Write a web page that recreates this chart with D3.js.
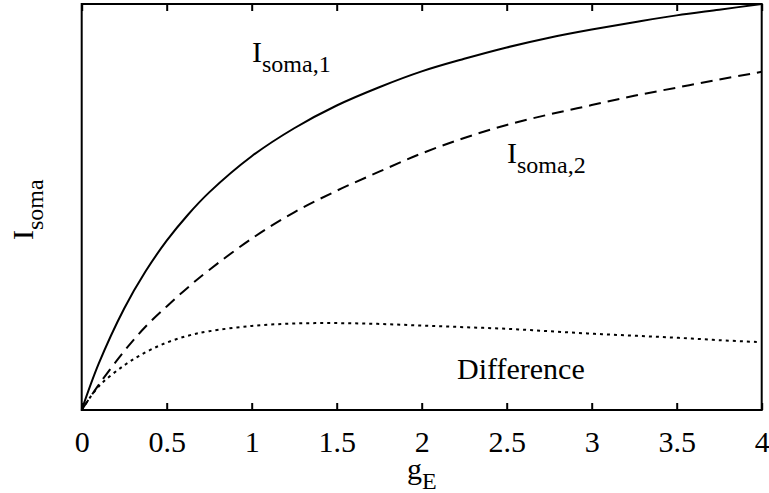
<!DOCTYPE html>
<html>
<head>
<meta charset="utf-8">
<script src="https://cdn.jsdelivr.net/npm/d3@7"></script>
<style>
  html, body { margin: 0; padding: 0; background: #fff; }
</style>
</head>
<body>
<svg id="chart" width="769" height="493"></svg>
<script>
// ---- data ----
const gE = [0, 0.1, 0.25, 0.375, 0.5, 0.625, 0.75, 1, 1.25, 1.5, 1.75, 2, 2.25, 2.5, 2.75, 3, 3.25, 3.5, 3.75, 4];
const soma1 = [0, 0.114, 0.25, 0.341, 0.417, 0.481, 0.536, 0.625, 0.694, 0.75, 0.795, 0.834, 0.865, 0.893, 0.917, 0.937, 0.955, 0.972, 0.986, 1.0];
const soma2 = [0, 0.062, 0.145, 0.205, 0.255, 0.302, 0.345, 0.422, 0.487, 0.54, 0.587, 0.632, 0.67, 0.702, 0.728, 0.751, 0.774, 0.794, 0.814, 0.833];
const diff  = [0, 0.058, 0.11, 0.142, 0.166, 0.183, 0.194, 0.207, 0.213, 0.214, 0.212, 0.208, 0.204, 0.2, 0.194, 0.188, 0.183, 0.178, 0.172, 0.167];
const xTicks = [0, 0.5, 1, 1.5, 2, 2.5, 3, 3.5, 4];
const xTickLabels = ["0", "0.5", "1", "1.5", "2", "2.5", "3", "3.5", "4"];

const FONT = '"Liberation Serif", "Times New Roman", serif';
const svg = d3.select("#chart");
const L = 81.7, R = 761.7, T = 4, B = 410;
const x = d3.scaleLinear().domain([0, 4]).range([L, R]);
const y = d3.scaleLinear().domain([0, 1]).range([B, T]);

// curves
const series = [
  { v: soma1, dash: null },
  { v: soma2, dash: "12,7" },
  { v: diff,  dash: "3,4" }
];
const line = d3.line().x(d => x(d[0])).y(d => y(d[1])).curve(d3.curveCatmullRom.alpha(0.5));
series.forEach(s => {
  svg.append("path")
    .datum(gE.map((g, i) => [g, s.v[i]]))
    .attr("d", line)
    .attr("fill", "none")
    .attr("stroke", "#000")
    .attr("stroke-width", 2)
    .attr("stroke-dasharray", s.dash);
});

// frame
svg.append("rect").attr("x", L).attr("y", T).attr("width", R - L).attr("height", B - T)
  .attr("fill", "none").attr("stroke", "#000").attr("stroke-width", 2);

// bottom axis (inward ticks)
const bottomAxis = svg.append("g").attr("transform", `translate(0,${B})`)
  .call(d3.axisBottom(x).tickValues(xTicks).tickSizeInner(-7).tickSizeOuter(0)
    .tickFormat((d, i) => xTickLabels[i]));
bottomAxis.select(".domain").remove();
bottomAxis.selectAll(".tick line").attr("stroke", "#000").attr("stroke-width", 2);
bottomAxis.selectAll(".tick text").attr("y", 42).attr("dy", null)
  .style("font-family", FONT).style("font-size", "30px").attr("fill", "#000");

// top axis ticks (no labels)
const topAxis = svg.append("g").attr("transform", `translate(0,${T})`)
  .call(d3.axisTop(x).tickValues(xTicks).tickSizeInner(-7).tickSizeOuter(0).tickFormat(""));
topAxis.select(".domain").remove();
topAxis.selectAll(".tick line").attr("stroke", "#000").attr("stroke-width", 2);

// axis titles
const gl = svg.append("text").attr("x", 407).attr("y", 479)
  .style("font-family", FONT).style("font-size", "30px");
gl.append("tspan").text("g");
gl.append("tspan").attr("dy", 10).style("font-size", "24px").text("E");

const yl = svg.append("text").attr("transform", "translate(33,240) rotate(-90)")
  .style("font-family", FONT).style("font-size", "30px");
yl.append("tspan").text("I");
yl.append("tspan").attr("dy", 10).style("font-size", "24px").text("soma");

// curve labels
function subLabel(px, py, main, sub) {
  const t = svg.append("text").attr("x", px).attr("y", py)
    .style("font-family", FONT).style("font-size", "30px");
  t.append("tspan").text(main);
  t.append("tspan").attr("dy", 10).style("font-size", "24px").text(sub);
}
subLabel(252, 62, "I", "soma,1");
subLabel(507, 163, "I", "soma,2");
svg.append("text").attr("x", 457).attr("y", 379)
  .style("font-family", FONT).style("font-size", "30px").text("Difference");
</script>
</body>
</html>
